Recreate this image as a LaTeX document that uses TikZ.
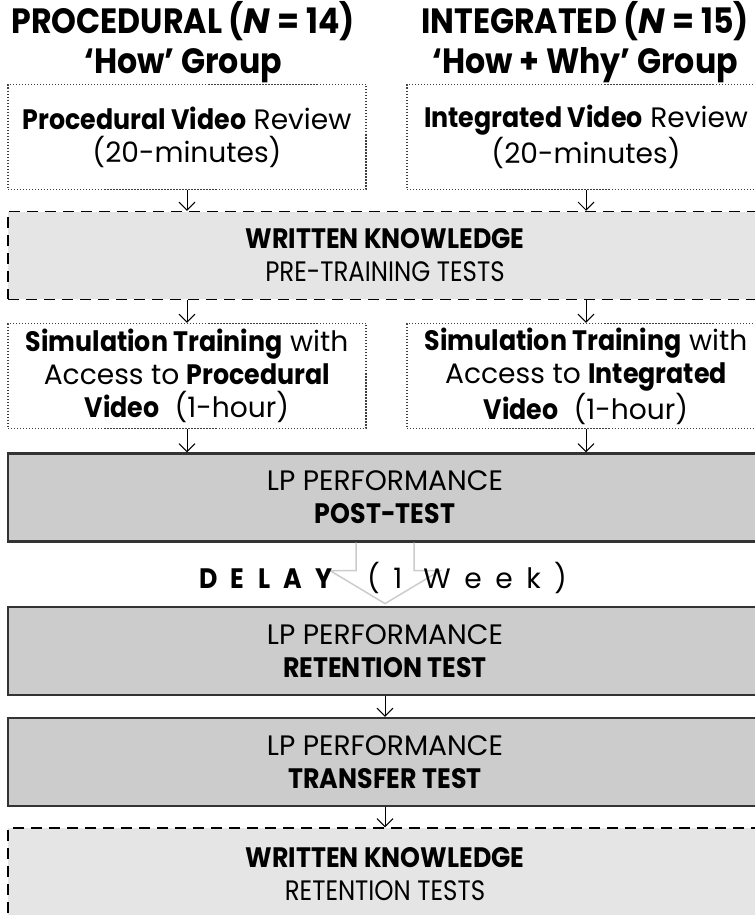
\documentclass[tikz,border=0pt]{standalone}
\usepackage{fontspec}
\setmainfont[BoldFeatures={FakeStretch=0.9}]{Poppins}
\newfontfamily\narrowfont[FakeStretch=0.87]{Poppins}
\newfontfamily\spacedfont[LetterSpace=48, BoldFeatures={FakeStretch=0.9}]{Poppins}
\usetikzlibrary{arrows.meta}

\begin{document}
\begin{tikzpicture}[x=0.02cm, y=-0.02cm,
	every node/.style={align=center, inner sep=0pt, font=\fontsize{16}{18.8}\selectfont},
	header/.style={font=\bfseries\fontsize{20}{22.7}\selectfont},
	videobox/.style={draw=black!75, densely dotted, line width=0.25mm, minimum width=7.16cm, minimum height=2.1cm},
	writtenbox/.style={draw=black, dash pattern=on 2.2mm off 1.4mm, line width=0.3mm, fill=black!10, minimum width=15.08cm, minimum height=1.76cm},
	lpbox/.style={draw=black!80, line width=0.45mm, fill=black!20, minimum width=15.08cm, minimum height=1.76cm},
	flow/.style={-{Straight Barb[length=1.6mm, width=3.2mm]}, line width=0.2mm}]
				\useasboundingbox (0,0) rectangle (754,915);

				\node[header] (howhead) at (183,42) {PROCEDURAL (\textit{N} = 14)\\‘How’ Group};
				\node[header] (whyhead) at (585,42) {INTEGRATED (\textit{N} = 15)\\‘How + Why’ Group};

				\node[videobox] (howvideo) at (187,137) {\textbf{Procedural Video} Review\\(20-minutes)};
				\node[videobox] (whyvideo) at (586,137) {\textbf{Integrated Video} Review\\(20-minutes)};
				\node[writtenbox] (pretest) at (385,255.5) {\textbf{WRITTEN KNOWLEDGE}\\{\narrowfont PRE-TRAINING TESTS}};
				\node[videobox] (howsim) at (187,376) {\textbf{Simulation Training} with\\Access to \textbf{Procedural}\\\textbf{Video}~ (1-hour)};
				\node[videobox] (whysim) at (586,376) {\textbf{Simulation Training} with\\Access to \textbf{Integrated}\\\textbf{Video}~ (1-hour)};
				\node[lpbox] (posttest) at (385,497.5) {LP PERFORMANCE\\\textbf{POST-TEST}};

				\draw[draw=black!20, line width=0.3mm] ([xshift=-0.58cm]posttest.south) -- ++(0,28) -- ++(-26,0) -- ++(55,33) -- ++(55,-33) -- ++(-26,0) -- ++(0,-28);
				\node (delay) at (383,578) {\spacedfont\textbf{DELAY} (1 Week)};

				\node[lpbox] (retention) at (385,651) {LP PERFORMANCE\\\textbf{RETENTION TEST}};
				\node[lpbox] (transfer) at (385,762) {LP PERFORMANCE\\\textbf{TRANSFER TEST}};
				\node[writtenbox, minimum height=1.84cm] (posttests) at (385,874) {\textbf{WRITTEN KNOWLEDGE}\\{\narrowfont RETENTION TESTS}};

				\draw[flow] (howvideo) -- (howvideo.south |- pretest.north);
				\draw[flow] (whyvideo) -- (whyvideo.south |- pretest.north);
				\draw[flow] (howsim.north |- pretest.south) -- (howsim);
				\draw[flow] (whysim.north |- pretest.south) -- (whysim);
				\draw[flow] (howsim) -- (howsim.south |- posttest.north);
				\draw[flow] (whysim) -- (whysim.south |- posttest.north);
				\draw[flow] (retention) -- (transfer);
				\draw[flow] (transfer) -- (posttests);
			\end{tikzpicture}
\end{document}
